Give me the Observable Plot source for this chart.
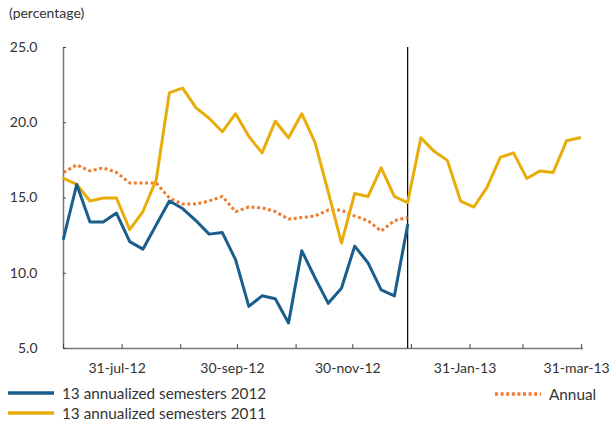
<!DOCTYPE html>
<html>
<head>
<meta charset="utf-8">
<script src="https://cdn.jsdelivr.net/npm/d3@7"></script>
<script src="https://cdn.jsdelivr.net/npm/@observablehq/plot@0.6"></script>
<style>
  html, body { margin: 0; padding: 0; background: #fff; }
  body { width: 613px; height: 424px; position: relative; overflow: hidden; font-family: Lato, "Open Sans", sans-serif; color: #333; }
  #title { position: absolute; left: 9px; top: 4px; font-size: 14px; }
  #chart { position: absolute; left: 0; top: 0; }
  .leg { position: absolute; font-size: 15.3px; display: flex; align-items: center; white-space: nowrap; }
  .leg svg { margin-right: 8px; }
</style>
</head>
<body>
<div id="chart"></div>
<div id="title">(percentage)</div>
<div id="legend"></div>
<script>
// Weekly observation dates
const dates = [
  "2012-06-30","2012-07-07","2012-07-14","2012-07-21","2012-07-28","2012-08-04","2012-08-11","2012-08-18",
  "2012-08-25","2012-09-01","2012-09-08","2012-09-15","2012-09-22","2012-09-29","2012-10-06","2012-10-13",
  "2012-10-20","2012-10-27","2012-11-03","2012-11-10","2012-11-17","2012-11-24","2012-12-01","2012-12-08",
  "2012-12-15","2012-12-22","2012-12-29","2013-01-05","2013-01-12","2013-01-19","2013-01-26","2013-02-02",
  "2013-02-09","2013-02-16","2013-02-23","2013-03-02","2013-03-09","2013-03-16","2013-03-23","2013-03-30"
];
// 13 annualized semesters 2011 (yellow)
const sem2011 = [16.3, 15.9, 14.8, 15.0, 15.0, 12.9, 14.1, 16.2, 22.0, 22.3, 21.0, 20.3, 19.4, 20.6, 19.1, 18.0, 20.1, 19.0, 20.6, 18.7,
                 15.4, 12.0, 15.3, 15.1, 17.0, 15.1, 14.7, 19.0, 18.1, 17.5, 14.8, 14.4, 15.7, 17.7, 18.0, 16.3, 16.8, 16.7, 18.8, 19.0];
// 13 annualized semesters 2012 (blue)
const sem2012 = [12.3, 15.9, 13.4, 13.4, 14.0, 12.1, 11.6, 13.2, 14.8, 14.3, 13.5, 12.6, 12.7, 10.9, 7.8, 8.5, 8.3, 6.7, 11.5, 9.7,
                 8.0, 9.0, 11.8, 10.7, 8.9, 8.5, 13.2];
// Annual (orange dotted)
const annual = [16.7, 17.2, 16.8, 17.0, 16.7, 16.0, 16.0, 16.0, 15.0, 14.6, 14.6, 14.8, 15.1, 14.1, 14.4, 14.35, 14.1, 13.6, 13.7, 13.8,
                14.2, 14.2, 13.8, 13.5, 12.8, 13.5, 13.7];

const monthTicks = ["2012-06-30","2012-07-31","2012-08-31","2012-09-30","2012-10-31","2012-11-30","2012-12-31","2013-01-31","2013-02-28","2013-03-31"];
const labelTicks = ["2012-07-31","2012-09-30","2012-11-30","2013-01-31","2013-03-31"];
const labelText = ["31-jul-12","30-sep-12","30-nov-12","31-Jan-13","31-mar-13"];
const yTicks = [5, 10, 15, 20, 25];
const xDomain = ["2012-06-30", "2013-04-01"];
const breakDate = ["2012-12-29"];

const seriesNames = ["13 annualized semesters 2012", "13 annualized semesters 2011", "Annual"];
const colors = ["#1a5e8c", "#e8ad0a", "#ee7d31"];

const P = s => new Date(s + "T00:00:00Z");
const d2011 = sem2011.map((v, i) => ({date: P(dates[i]), v}));
const d2012 = sem2012.map((v, i) => ({date: P(dates[i]), v}));
const dAnn = annual.map((v, i) => ({date: P(dates[i]), v}));
const labelMap = new Map(labelTicks.map((d, i) => [+P(d), labelText[i]]));

const chart = Plot.plot({
  width: 613,
  height: 424,
  marginLeft: 63,
  marginRight: 30,
  marginTop: 47,
  marginBottom: 76,
  style: {fontFamily: "Lato, 'Open Sans', sans-serif", fontSize: "14px", color: "#333", background: "transparent"},
  x: {type: "utc", domain: xDomain.map(P)},
  y: {domain: [5, 25]},
  marks: [
    Plot.ruleY([5], {stroke: "#777", strokeWidth: 1.5}),
    Plot.ruleX([P(xDomain[0])], {y1: 5, y2: 25, stroke: "#777", strokeWidth: 1.5}),
    Plot.axisY({ticks: yTicks, tickSize: 0, tickPadding: 26, tickFormat: d => d.toFixed(1), label: null, fill: "#333"}),
    Plot.axisY({ticks: yTicks, tickSize: -3, tickFormat: () => "", label: null, stroke: "#444"}),
    Plot.axisX({ticks: monthTicks.map(P), tickSize: -4, tickFormat: () => "", label: null, stroke: "#444"}),
    Plot.axisX({ticks: labelTicks.map(P), tickSize: 0, tickPadding: 15, dx: -5, tickFormat: d => labelMap.get(+d), label: null, fill: "#333"}),
    Plot.ruleX(breakDate.map(P), {y1: 5, y2: 25, stroke: "#000", strokeWidth: 1.2}),
    Plot.line(dAnn, {x: "date", y: "v", stroke: colors[2], strokeWidth: 3, strokeDasharray: "3,2.6", strokeLinecap: "butt"}),
    Plot.line(d2011, {x: "date", y: "v", stroke: colors[1], strokeWidth: 3}),
    Plot.line(d2012, {x: "date", y: "v", stroke: colors[0], strokeWidth: 3})
  ]
});
document.getElementById("chart").appendChild(chart);

// Legend
const legend = document.getElementById("legend");
const legPos = [{left: 8, top: 384}, {left: 8, top: 404}, {left: 495, top: 385}];
seriesNames.forEach((name, i) => {
  const div = document.createElement("div");
  div.className = "leg";
  div.style.left = legPos[i].left + "px";
  div.style.top = legPos[i].top + "px";
  const dash = i === 2 ? 'stroke-dasharray="3,2.6"' : '';
  div.innerHTML = `<svg width="46" height="18"><line x1="0" x2="46" y1="9" y2="9" stroke="${colors[i]}" stroke-width="3.5" ${dash}/></svg><span>${name}</span>`;
  legend.appendChild(div);
});
</script>
</body>
</html>
